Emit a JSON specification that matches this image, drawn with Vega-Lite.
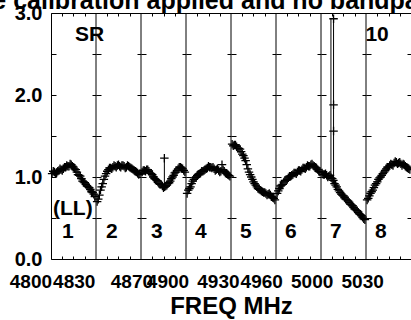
{
  "$schema": "https://vega.github.io/schema/vega-lite/v6.json",
  "width": 360,
  "height": 246,
  "autosize": {"type": "none"},
  "padding": {"left": 51, "top": 13, "right": 0, "bottom": 61},
  "background": "white",
  "title": {"text": "Amplitude calibration applied and no bandpass applied", "font": "Liberation Sans", "fontSize": 25, "fontWeight": "bold", "color": "black", "anchor": "start", "frame": "group", "dx": -167, "dy": 36, "baseline": "alphabetic", "offset": 5},
  "config": {"view": {"stroke": "black", "strokeWidth": 1}, "font": "Liberation Sans"},
  "datasets": {
    "spec": [
      {"f": 4800.38, "a": 1.04}, {"f": 4801.94, "a": 1.06}, {"f": 4803.50, "a": 1.05}, {"f": 4805.06, "a": 1.08}, {"f": 4806.62, "a": 1.09},
      {"f": 4808.18, "a": 1.10}, {"f": 4809.74, "a": 1.12}, {"f": 4811.30, "a": 1.13}, {"f": 4812.86, "a": 1.16}, {"f": 4814.42, "a": 1.13},
      {"f": 4815.98, "a": 1.10}, {"f": 4817.54, "a": 1.06}, {"f": 4819.10, "a": 1.02}, {"f": 4820.66, "a": 0.98}, {"f": 4822.22, "a": 0.94},
      {"f": 4823.78, "a": 0.91}, {"f": 4825.34, "a": 0.88}, {"f": 4826.90, "a": 0.85}, {"f": 4828.46, "a": 0.81}, {"f": 4830.02, "a": 0.76},
      {"f": 4801.16, "a": 1.07}, {"f": 4802.72, "a": 1.04}, {"f": 4804.28, "a": 1.07}, {"f": 4805.84, "a": 1.10}, {"f": 4807.40, "a": 1.08},
      {"f": 4808.96, "a": 1.12}, {"f": 4810.52, "a": 1.14}, {"f": 4812.08, "a": 1.13}, {"f": 4813.64, "a": 1.15}, {"f": 4815.20, "a": 1.12},
      {"f": 4816.76, "a": 1.09}, {"f": 4818.32, "a": 1.03}, {"f": 4819.88, "a": 1.01}, {"f": 4821.44, "a": 0.95}, {"f": 4823.00, "a": 0.93},
      {"f": 4824.56, "a": 0.89}, {"f": 4826.12, "a": 0.87}, {"f": 4827.68, "a": 0.82}, {"f": 4829.24, "a": 0.79},
      {"f": 4831.58, "a": 0.70}, {"f": 4833.14, "a": 0.78}, {"f": 4834.70, "a": 0.88}, {"f": 4836.26, "a": 0.97}, {"f": 4837.82, "a": 1.04},
      {"f": 4839.38, "a": 1.09}, {"f": 4840.94, "a": 1.11}, {"f": 4842.50, "a": 1.12}, {"f": 4844.06, "a": 1.13}, {"f": 4845.62, "a": 1.14},
      {"f": 4847.18, "a": 1.13}, {"f": 4848.74, "a": 1.14}, {"f": 4850.30, "a": 1.13}, {"f": 4851.86, "a": 1.12}, {"f": 4853.42, "a": 1.13},
      {"f": 4854.98, "a": 1.11}, {"f": 4856.54, "a": 1.09}, {"f": 4858.10, "a": 1.07}, {"f": 4859.66, "a": 1.05}, {"f": 4861.22, "a": 1.04},
      {"f": 4832.36, "a": 0.73}, {"f": 4833.92, "a": 0.84}, {"f": 4835.48, "a": 0.92}, {"f": 4837.04, "a": 1.01}, {"f": 4838.60, "a": 1.07},
      {"f": 4840.16, "a": 1.11}, {"f": 4841.72, "a": 1.10}, {"f": 4843.28, "a": 1.14}, {"f": 4844.84, "a": 1.12}, {"f": 4846.40, "a": 1.15},
      {"f": 4847.96, "a": 1.12}, {"f": 4849.52, "a": 1.14}, {"f": 4851.08, "a": 1.11}, {"f": 4852.64, "a": 1.14}, {"f": 4854.20, "a": 1.12},
      {"f": 4855.76, "a": 1.10}, {"f": 4857.32, "a": 1.08}, {"f": 4858.88, "a": 1.06}, {"f": 4860.44, "a": 1.03},
      {"f": 4862.78, "a": 1.06}, {"f": 4864.34, "a": 1.08}, {"f": 4865.90, "a": 1.09}, {"f": 4867.46, "a": 1.07}, {"f": 4869.02, "a": 1.04},
      {"f": 4870.58, "a": 1.00}, {"f": 4872.14, "a": 0.97}, {"f": 4873.70, "a": 0.94}, {"f": 4875.26, "a": 0.91}, {"f": 4876.82, "a": 0.89},
      {"f": 4878.38, "a": 0.88}, {"f": 4879.94, "a": 0.90}, {"f": 4881.50, "a": 0.93}, {"f": 4883.06, "a": 0.98}, {"f": 4884.62, "a": 1.02},
      {"f": 4886.18, "a": 1.06}, {"f": 4887.74, "a": 1.10}, {"f": 4889.30, "a": 1.12}, {"f": 4890.86, "a": 1.10}, {"f": 4892.42, "a": 1.06},
      {"f": 4863.56, "a": 1.08}, {"f": 4865.12, "a": 1.07}, {"f": 4866.68, "a": 1.09}, {"f": 4868.24, "a": 1.05}, {"f": 4869.80, "a": 1.03},
      {"f": 4871.36, "a": 0.98}, {"f": 4872.92, "a": 0.96}, {"f": 4874.48, "a": 0.92}, {"f": 4876.04, "a": 0.91}, {"f": 4877.60, "a": 0.87},
      {"f": 4879.16, "a": 0.89}, {"f": 4880.72, "a": 0.92}, {"f": 4882.28, "a": 0.95}, {"f": 4883.84, "a": 1.00}, {"f": 4885.40, "a": 1.05},
      {"f": 4886.96, "a": 1.08}, {"f": 4888.52, "a": 1.12}, {"f": 4890.08, "a": 1.11}, {"f": 4891.64, "a": 1.08},
      {"f": 4893.98, "a": 0.80}, {"f": 4895.54, "a": 0.86}, {"f": 4897.10, "a": 0.92}, {"f": 4898.66, "a": 0.97}, {"f": 4900.22, "a": 1.00},
      {"f": 4901.78, "a": 1.03}, {"f": 4903.34, "a": 1.05}, {"f": 4904.90, "a": 1.07}, {"f": 4906.46, "a": 1.09}, {"f": 4908.02, "a": 1.11},
      {"f": 4909.58, "a": 1.12}, {"f": 4911.14, "a": 1.11}, {"f": 4912.70, "a": 1.10}, {"f": 4914.26, "a": 1.09}, {"f": 4915.82, "a": 1.08},
      {"f": 4917.38, "a": 1.07}, {"f": 4918.94, "a": 1.09}, {"f": 4920.50, "a": 1.05}, {"f": 4922.06, "a": 1.03}, {"f": 4923.62, "a": 1.01},
      {"f": 4894.76, "a": 0.84}, {"f": 4896.32, "a": 0.88}, {"f": 4897.88, "a": 0.95}, {"f": 4899.44, "a": 0.99}, {"f": 4901.00, "a": 1.02},
      {"f": 4902.56, "a": 1.04}, {"f": 4904.12, "a": 1.07}, {"f": 4905.68, "a": 1.08}, {"f": 4907.24, "a": 1.10}, {"f": 4908.80, "a": 1.13},
      {"f": 4910.36, "a": 1.12}, {"f": 4911.92, "a": 1.12}, {"f": 4913.48, "a": 1.08}, {"f": 4915.04, "a": 1.10}, {"f": 4916.60, "a": 1.06},
      {"f": 4918.16, "a": 1.15}, {"f": 4919.72, "a": 1.07}, {"f": 4921.28, "a": 1.04}, {"f": 4922.84, "a": 1.02},
      {"f": 4925.18, "a": 1.40}, {"f": 4926.74, "a": 1.39}, {"f": 4928.30, "a": 1.37}, {"f": 4929.86, "a": 1.35}, {"f": 4931.42, "a": 1.31},
      {"f": 4932.98, "a": 1.26}, {"f": 4934.54, "a": 1.20}, {"f": 4936.10, "a": 1.10}, {"f": 4937.66, "a": 1.03}, {"f": 4939.22, "a": 0.97},
      {"f": 4940.78, "a": 0.92}, {"f": 4942.34, "a": 0.88}, {"f": 4943.90, "a": 0.85}, {"f": 4945.46, "a": 0.83}, {"f": 4947.02, "a": 0.81},
      {"f": 4948.58, "a": 0.80}, {"f": 4950.14, "a": 0.79}, {"f": 4951.70, "a": 0.78}, {"f": 4953.26, "a": 0.75}, {"f": 4954.82, "a": 0.72},
      {"f": 4925.96, "a": 1.38}, {"f": 4927.52, "a": 1.39}, {"f": 4929.08, "a": 1.35}, {"f": 4930.64, "a": 1.34}, {"f": 4932.20, "a": 1.28},
      {"f": 4933.76, "a": 1.23}, {"f": 4935.32, "a": 1.15}, {"f": 4936.88, "a": 1.06}, {"f": 4938.44, "a": 1.00}, {"f": 4940.00, "a": 0.94},
      {"f": 4941.56, "a": 0.90}, {"f": 4943.12, "a": 0.86}, {"f": 4944.68, "a": 0.84}, {"f": 4946.24, "a": 0.82}, {"f": 4947.80, "a": 0.81},
      {"f": 4949.36, "a": 0.78}, {"f": 4950.92, "a": 0.80}, {"f": 4952.48, "a": 0.76}, {"f": 4954.04, "a": 0.74},
      {"f": 4956.38, "a": 0.80}, {"f": 4957.94, "a": 0.86}, {"f": 4959.50, "a": 0.90}, {"f": 4961.06, "a": 0.94}, {"f": 4962.62, "a": 0.96},
      {"f": 4964.18, "a": 0.99}, {"f": 4965.74, "a": 1.01}, {"f": 4967.30, "a": 1.03}, {"f": 4968.86, "a": 1.05}, {"f": 4970.42, "a": 1.06},
      {"f": 4971.98, "a": 1.08}, {"f": 4973.54, "a": 1.09}, {"f": 4975.10, "a": 1.11}, {"f": 4976.66, "a": 1.12}, {"f": 4978.22, "a": 1.13},
      {"f": 4979.78, "a": 1.15}, {"f": 4981.34, "a": 1.14}, {"f": 4982.90, "a": 1.12}, {"f": 4984.46, "a": 1.09}, {"f": 4986.02, "a": 1.06},
      {"f": 4957.16, "a": 0.83}, {"f": 4958.72, "a": 0.89}, {"f": 4960.28, "a": 0.91}, {"f": 4961.84, "a": 0.96}, {"f": 4963.40, "a": 0.97},
      {"f": 4964.96, "a": 1.01}, {"f": 4966.52, "a": 1.02}, {"f": 4968.08, "a": 1.05}, {"f": 4969.64, "a": 1.04}, {"f": 4971.20, "a": 1.08},
      {"f": 4972.76, "a": 1.07}, {"f": 4974.32, "a": 1.11}, {"f": 4975.88, "a": 1.10}, {"f": 4977.44, "a": 1.14}, {"f": 4979.00, "a": 1.13},
      {"f": 4980.56, "a": 1.16}, {"f": 4982.12, "a": 1.13}, {"f": 4983.68, "a": 1.11}, {"f": 4985.24, "a": 1.07},
      {"f": 4987.58, "a": 1.05}, {"f": 4989.14, "a": 1.03}, {"f": 4990.70, "a": 1.02}, {"f": 4992.26, "a": 1.01}, {"f": 4993.82, "a": 0.99},
      {"f": 4995.38, "a": 0.96}, {"f": 4996.94, "a": 0.90}, {"f": 4998.50, "a": 0.85}, {"f": 5000.06, "a": 0.81}, {"f": 5001.62, "a": 0.78},
      {"f": 5003.18, "a": 0.75}, {"f": 5004.74, "a": 0.72}, {"f": 5006.30, "a": 0.69}, {"f": 5007.86, "a": 0.66}, {"f": 5009.42, "a": 0.63},
      {"f": 5010.98, "a": 0.60}, {"f": 5012.54, "a": 0.57}, {"f": 5014.10, "a": 0.54}, {"f": 5015.66, "a": 0.51}, {"f": 5017.22, "a": 0.48},
      {"f": 4988.36, "a": 1.03}, {"f": 4989.92, "a": 1.04}, {"f": 4991.48, "a": 1.00}, {"f": 4993.04, "a": 1.02}, {"f": 4994.60, "a": 0.98},
      {"f": 4996.16, "a": 0.92}, {"f": 4997.72, "a": 0.88}, {"f": 4999.28, "a": 0.83}, {"f": 5000.84, "a": 0.79}, {"f": 5002.40, "a": 0.77},
      {"f": 5003.96, "a": 0.73}, {"f": 5005.52, "a": 0.71}, {"f": 5007.08, "a": 0.67}, {"f": 5008.64, "a": 0.65}, {"f": 5010.20, "a": 0.61},
      {"f": 5011.76, "a": 0.59}, {"f": 5013.32, "a": 0.55}, {"f": 5014.88, "a": 0.53}, {"f": 5016.44, "a": 0.49},
      {"f": 5018.78, "a": 0.72}, {"f": 5020.34, "a": 0.77}, {"f": 5021.90, "a": 0.82}, {"f": 5023.46, "a": 0.87}, {"f": 5025.02, "a": 0.92},
      {"f": 5026.58, "a": 0.97}, {"f": 5028.14, "a": 1.00}, {"f": 5029.70, "a": 1.04}, {"f": 5031.26, "a": 1.08}, {"f": 5032.82, "a": 1.12},
      {"f": 5034.38, "a": 1.14}, {"f": 5035.94, "a": 1.15}, {"f": 5037.50, "a": 1.17}, {"f": 5039.06, "a": 1.18}, {"f": 5040.62, "a": 1.17},
      {"f": 5042.18, "a": 1.16}, {"f": 5043.74, "a": 1.16}, {"f": 5045.30, "a": 1.13}, {"f": 5046.86, "a": 1.11}, {"f": 5048.42, "a": 1.09},
      {"f": 5019.56, "a": 0.74}, {"f": 5021.12, "a": 0.80}, {"f": 5022.68, "a": 0.84}, {"f": 5024.24, "a": 0.90}, {"f": 5025.80, "a": 0.94},
      {"f": 5027.36, "a": 0.99}, {"f": 5028.92, "a": 1.02}, {"f": 5030.48, "a": 1.06}, {"f": 5032.04, "a": 1.10}, {"f": 5033.60, "a": 1.12},
      {"f": 5035.16, "a": 1.16}, {"f": 5036.72, "a": 1.14}, {"f": 5038.28, "a": 1.19}, {"f": 5039.84, "a": 1.16}, {"f": 5041.40, "a": 1.18},
      {"f": 5042.96, "a": 1.14}, {"f": 5044.52, "a": 1.15}, {"f": 5046.08, "a": 1.12}, {"f": 5047.64, "a": 1.10},
      {"f": 4878.2, "a": 1.23}, {"f": 4995.5, "a": 2.93}, {"f": 4995.5, "a": 1.88}, {"f": 4995.5, "a": 1.56}
    ],
    "spikes": [
      {"f": 4878.2, "lo": 0.92, "hi": 1.23},
      {"f": 4993.7, "lo": 1.0, "hi": 2.93},
      {"f": 4995.5, "lo": 0.97, "hi": 2.93}
    ],
    "bounds": [
      {"b": 4830.8}, {"b": 4862.0}, {"b": 4893.2}, {"b": 4924.4}, {"b": 4955.6}, {"b": 4986.8}, {"b": 5018.0}
    ],
    "notes": [
      {"f": 4816.2, "a": 2.73, "t": "SR"},
      {"f": 5017.6, "a": 2.73, "t": "10"},
      {"f": 4801.0, "a": 0.61, "t": "(LL)"},
      {"f": 4807.2, "a": 0.33, "t": "1"},
      {"f": 4837.7, "a": 0.33, "t": "2"},
      {"f": 4868.9, "a": 0.33, "t": "3"},
      {"f": 4899.4, "a": 0.33, "t": "4"},
      {"f": 4930.6, "a": 0.33, "t": "5"},
      {"f": 4961.8, "a": 0.33, "t": "6"},
      {"f": 4993.0, "a": 0.33, "t": "7"},
      {"f": 5024.2, "a": 0.33, "t": "8"}
    ]
  },
  "layer": [
    {
      "data": {"name": "spec"},
      "mark": {"type": "point", "shape": "M-1,0H1M0,-1V1", "size": 72, "filled": false, "color": "black", "strokeWidth": 1.3, "opacity": 1},
      "encoding": {
        "x": {"field": "f", "type": "quantitative", "scale": {"domain": [4799.6, 5049.2], "nice": false, "zero": false},
          "axis": {"orient": "bottom", "values": [4800, 4830, 4870, 4895, 4930, 4960, 4995, 5030],
            "labelExpr": "format(round(datum.value/10)*10, 'd')", "ticks": false, "domain": false, "grid": false,
            "labelAlign": "right", "labelBaseline": "top", "labelFontSize": 19, "labelFontWeight": "bold", "labelColor": "black", "labelFont": "Liberation Sans",
            "labelPadding": 13, "labelFlush": false, "labelOverlap": false, "labelDx": -1,
            "title": "FREQ MHz", "titleFontSize": 24, "titleFontWeight": "bold", "titleColor": "black", "titleFont": "Liberation Sans", "titlePadding": 3}},
        "y": {"field": "a", "type": "quantitative", "title": null, "scale": {"domain": [0, 3], "nice": false, "zero": false},
          "axis": {"orient": "left", "values": [0, 0.5, 1, 1.5, 2, 2.5, 3],
            "labelExpr": "datum.value % 1 == 0 ? format(datum.value, '.1f') : ''", "ticks": false, "domain": false,
            "grid": true, "gridColor": "black", "gridWidth": 1, "gridOpacity": 1, "gridDash": [5, 36, 4, 0],
            "labelFontSize": 20, "labelFontWeight": "bold", "labelColor": "black", "labelFont": "Liberation Sans", "labelPadding": 9,
            "labelFlush": false, "labelOverlap": false}}
      }
    },
    {
      "data": {"name": "bounds"},
      "mark": {"type": "rule", "color": "black", "strokeWidth": 1},
      "encoding": {
        "x": {"field": "b", "type": "quantitative",
          "axis": {"orient": "top", "values": [4807.4, 4815.2, 4823.0, 4838.6, 4846.4, 4854.2, 4869.8, 4877.6, 4885.4, 4901.0, 4908.8, 4916.6, 4932.2, 4940.0, 4947.8, 4963.4, 4971.2, 4979.0, 4994.6, 5002.4, 5010.2, 5025.8, 5033.6, 5041.4],
            "labels": false, "ticks": false, "domain": false, "title": null,
            "grid": true, "gridColor": "black", "gridWidth": 1, "gridOpacity": 1, "gridDash": [3, 240, 3, 0]}}
      }
    },
    {
      "data": {"name": "spikes"},
      "mark": {"type": "rule", "color": "black", "strokeWidth": 1},
      "encoding": {
        "x": {"field": "f", "type": "quantitative", "axis": null},
        "y": {"field": "lo", "type": "quantitative", "title": null},
        "y2": {"field": "hi"}
      }
    },
    {
      "data": {"name": "notes"},
      "mark": {"type": "text", "align": "left", "baseline": "middle", "font": "Liberation Sans", "fontSize": 21, "fontWeight": "bold", "color": "black"},
      "encoding": {
        "x": {"field": "f", "type": "quantitative", "axis": null},
        "y": {"field": "a", "type": "quantitative", "title": null},
        "text": {"field": "t"}
      }
    }
  ],
  "resolve": {"axis": {"x": "independent"}}
}
